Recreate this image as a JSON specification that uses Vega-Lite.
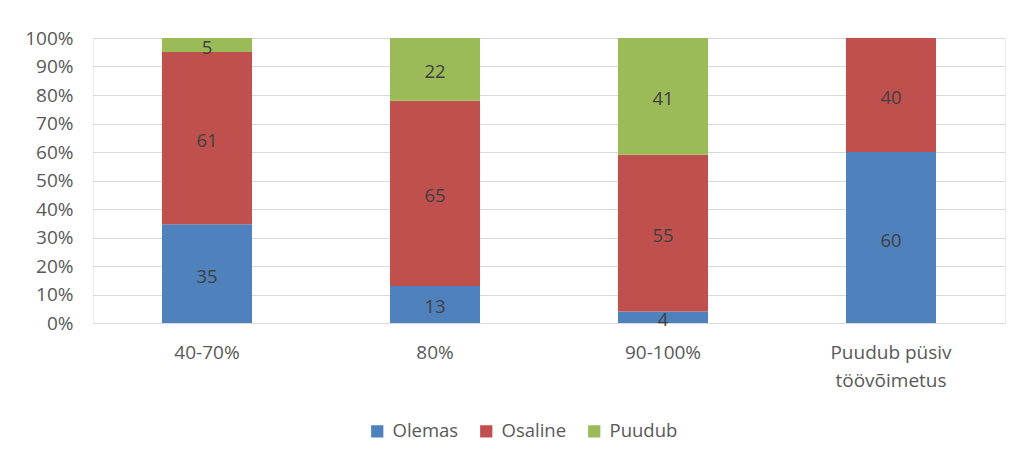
{
  "$schema": "https://vega.github.io/schema/vega-lite/v6.json",
  "autosize": {"type": "none"},
  "width": 912,
  "height": 285,
  "padding": {"left": 93, "top": 38, "right": 13, "bottom": 136},
  "background": "white",
  "config": {
    "font": "Open Sans",
    "view": {"stroke": "#ececec", "strokeWidth": 1},
    "axis": {"labelFont": "Open Sans", "labelFontSize": 19, "labelColor": "#595959"}
  },
  "data": {
    "values": [
      {"grupp": "40-70%", "seisund": "Olemas", "jrk": 1, "vaartus": 35},
      {"grupp": "40-70%", "seisund": "Osaline", "jrk": 2, "vaartus": 61},
      {"grupp": "40-70%", "seisund": "Puudub", "jrk": 3, "vaartus": 5},
      {"grupp": "80%", "seisund": "Olemas", "jrk": 1, "vaartus": 13},
      {"grupp": "80%", "seisund": "Osaline", "jrk": 2, "vaartus": 65},
      {"grupp": "80%", "seisund": "Puudub", "jrk": 3, "vaartus": 22},
      {"grupp": "90-100%", "seisund": "Olemas", "jrk": 1, "vaartus": 4},
      {"grupp": "90-100%", "seisund": "Osaline", "jrk": 2, "vaartus": 55},
      {"grupp": "90-100%", "seisund": "Puudub", "jrk": 3, "vaartus": 41},
      {"grupp": "Puudub püsiv töövõimetus", "seisund": "Olemas", "jrk": 1, "vaartus": 60},
      {"grupp": "Puudub püsiv töövõimetus", "seisund": "Osaline", "jrk": 2, "vaartus": 40}
    ]
  },
  "transform": [
    {"stack": "vaartus", "groupby": ["grupp"], "sort": [{"field": "jrk", "order": "ascending"}], "offset": "normalize", "as": ["alg", "lopp"]}
  ],
  "encoding": {
    "x": {
      "field": "grupp",
      "type": "nominal",
      "sort": null,
      "title": null,
      "scale": {"paddingInner": 0.605, "paddingOuter": 0.3025},
      "axis": {
        "labelAngle": 0,
        "domain": false,
        "ticks": false,
        "labelPadding": 20,
        "labelLineHeight": 28,
        "labelExpr": "datum.label == 'Puudub püsiv töövõimetus' ? ['Puudub püsiv', 'töövõimetus'] : datum.label"
      }
    }
  },
  "layer": [
    {
      "mark": {"type": "bar"},
      "encoding": {
        "y": {
          "field": "alg",
          "type": "quantitative",
          "title": null,
          "scale": {"domain": [0, 1]},
          "axis": {
            "format": ".0%",
            "tickCount": 10,
            "domain": false,
            "ticks": false,
            "labelPadding": 20,
            "gridColor": "#d9d9d9",
            "gridWidth": 1
          }
        },
        "y2": {"field": "lopp"},
        "color": {
          "field": "seisund",
          "type": "nominal",
          "scale": {"domain": ["Olemas", "Osaline", "Puudub"], "range": ["#4f81bd", "#c0504d", "#9bbb59"]},
          "legend": {
            "title": null,
            "orient": "none",
            "direction": "horizontal",
            "legendX": 275,
            "legendY": 384,
            "symbolType": "square",
            "symbolSize": 150,
            "symbolStrokeWidth": 0,
            "labelFontSize": 18.5,
            "labelColor": "#595959",
            "labelFont": "Open Sans",
            "columnPadding": 18,
            "labelOffset": 6
          }
        },
        "order": {"field": "jrk"}
      }
    },
    {
      "transform": [
        {"fold": ["alg", "lopp"], "as": ["serv", "asukoht"]}
      ],
      "mark": {"type": "text", "fontSize": 18.5, "color": "#404040", "baseline": "middle", "dy": 3, "font": "Open Sans"},
      "encoding": {
        "y": {"field": "asukoht", "type": "quantitative", "aggregate": "mean"},
        "detail": {"field": "seisund"},
        "text": {"field": "vaartus", "type": "quantitative"}
      }
    }
  ]
}
